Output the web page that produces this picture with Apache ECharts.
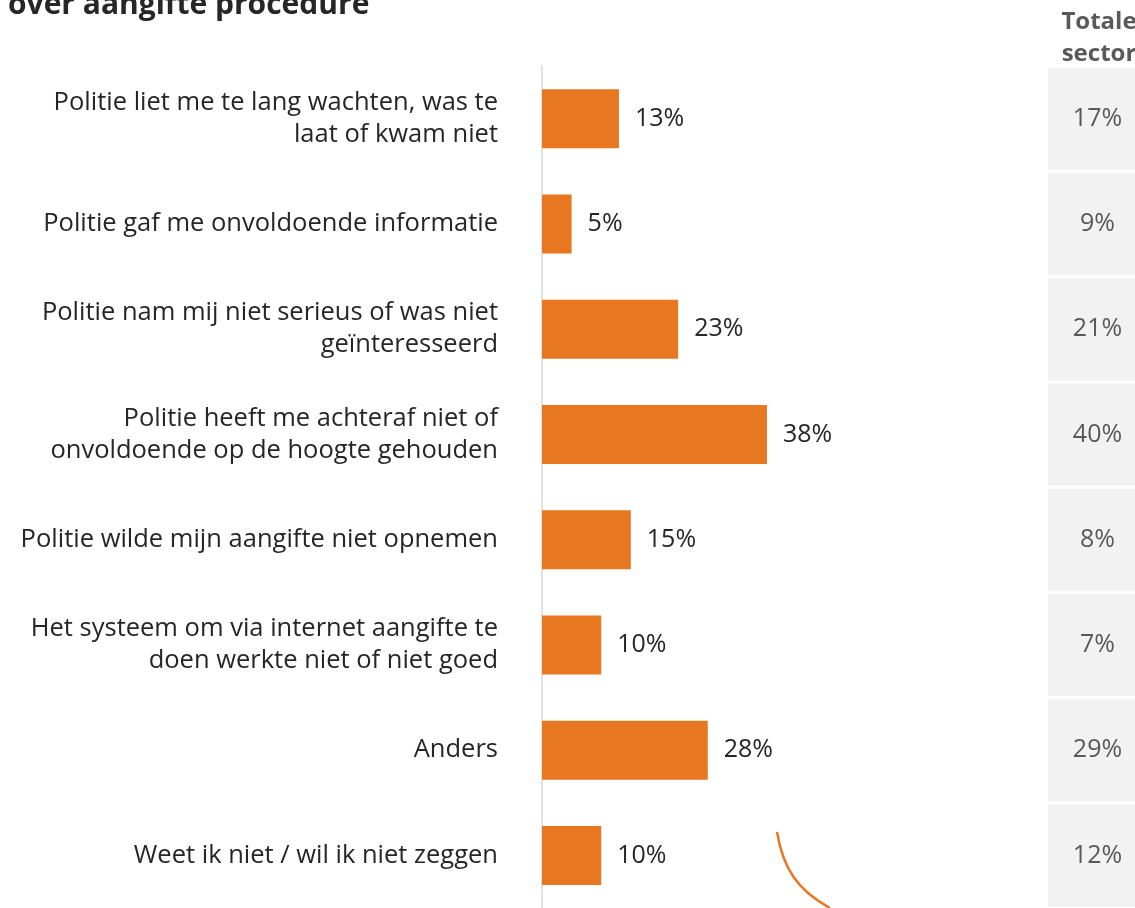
<!DOCTYPE html>
<html>
<head>
<meta charset="utf-8">
<script src="https://cdn.jsdelivr.net/npm/echarts@6/dist/echarts.min.js"></script>
<style>
  html, body { margin: 0; padding: 0; background: #fff; }
  #main { width: 1135px; height: 908px; }
</style>
</head>
<body>
<div id="main"></div>
<script>
// categories, top to bottom
var categories = [
    'Politie liet me te lang wachten, was te\nlaat of kwam niet',
    'Politie gaf me onvoldoende informatie',
    'Politie nam mij niet serieus of was niet\ngeïnteresseerd',
    'Politie heeft me achteraf niet of\nonvoldoende op de hoogte gehouden',
    'Politie wilde mijn aangifte niet opnemen',
    'Het systeem om via internet aangifte te\ndoen werkte niet of niet goed',
    'Anders',
    'Weet ik niet / wil ik niet zeggen'
]
var values = [13, 5, 23, 38, 15, 10, 28, 10]
var sectorValues = [17, 9, 21, 40, 8, 7, 29, 12]

var font = '"Open Sans", sans-serif'

var chart = echarts.init(document.getElementById('main'))

chart.setOption({
    animation: false,
    title: [{
        text: 'over aangifte procedure',
        left: 3,
        top: -15,
        textStyle: { fontFamily: font, fontSize: 30, fontWeight: 'bold', color: '#262626' }
    }, {
        text: 'Totale\nsector',
        left: 1094,
        top: 1,
        textAlign: 'center',
        textStyle: { fontFamily: font, fontSize: 24, fontWeight: 'bold', color: '#595959', lineHeight: 32 }
    }],
    grid: [
        { left: 542, top: 66, width: 296, height: 848 },
        { left: 1048, top: 66, width: 98, height: 848 }
    ],
    xAxis: [
        { gridIndex: 0, type: 'value', min: 0, max: 50, show: false },
        { gridIndex: 1, type: 'value', min: 0, max: 1, show: false }
    ],
    yAxis: [{
        gridIndex: 0,
        type: 'category',
        inverse: true,
        data: categories,
        axisLine: { show: true, lineStyle: { color: '#d9d9d9', width: 1.5 } },
        axisTick: { show: false },
        axisLabel: {
            margin: 44,
            fontFamily: font,
            fontSize: 25.5,
            lineHeight: 32,
            color: '#262626',
            align: 'right'
        }
    }, {
        gridIndex: 1,
        type: 'category',
        inverse: true,
        data: categories,
        show: false
    }],
    series: [{
        type: 'bar',
        xAxisIndex: 0,
        yAxisIndex: 0,
        data: values,
        barWidth: 59,
        itemStyle: { color: '#E87722' },
        label: {
            show: true,
            position: 'right',
            distance: 16,
            formatter: '{c}%',
            fontFamily: font,
            fontSize: 25,
            color: '#262626'
        }
    }, {
        type: 'bar',
        xAxisIndex: 1,
        yAxisIndex: 1,
        data: sectorValues.map(function (v) { return { value: 1, sector: v } }),
        barWidth: 102,
        itemStyle: { color: '#f2f2f2' },
        label: {
            show: true,
            position: 'inside',
            offset: [6, 0],
            formatter: function (p) { return p.data.sector + '%' },
            fontFamily: font,
            fontSize: 25,
            color: '#595959'
        },
        silent: true
    }],
    graphic: [{
        type: 'bezierCurve',
        shape: { x1: 777, y1: 832, x2: 830, y2: 908, cpx1: 783, cpy1: 868, cpx2: 797, cpy2: 890 },
        style: { stroke: '#E87722', lineWidth: 2.5, fill: null }
    }]
})
</script>
</body>
</html>
